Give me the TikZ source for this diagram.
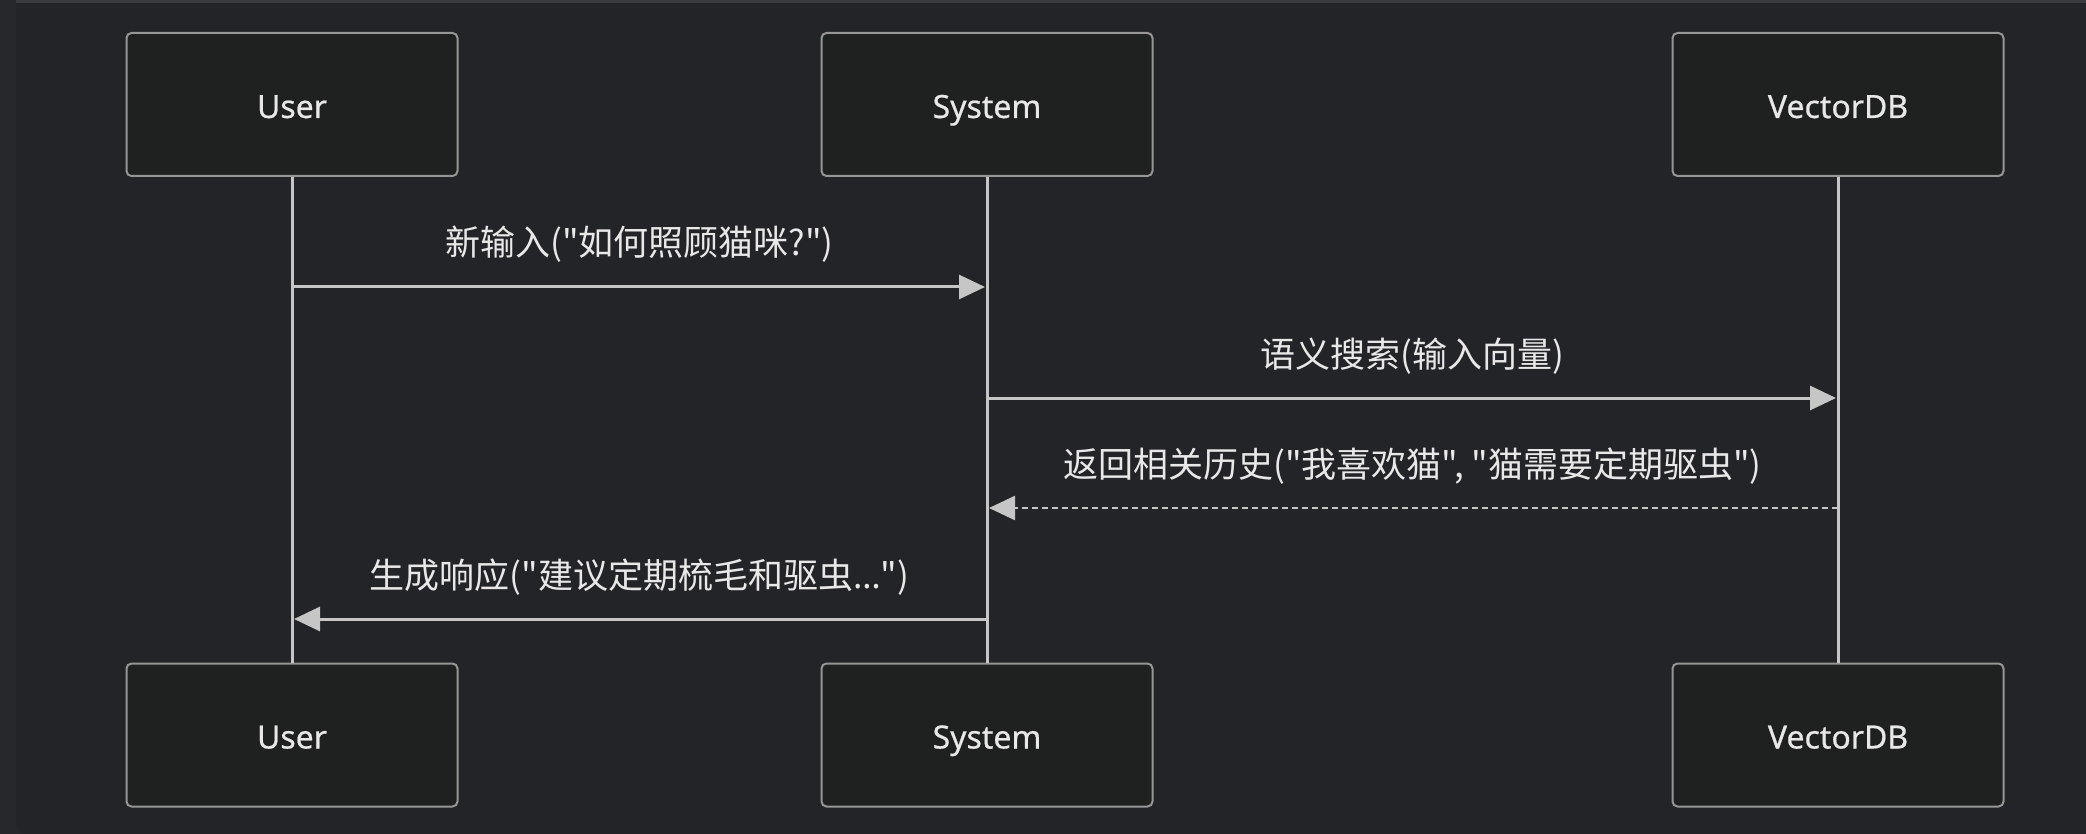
\documentclass[tikz,border=0pt]{standalone}
\usepackage{fontspec}
\setmainfont{Noto Sans}
\newfontfamily\cjk{Noto Sans CJK SC}
\newfontfamily\actorfont[FakeBold=0.6]{Noto Sans}
\usepackage{xcolor}
\usetikzlibrary{arrows.meta}

\definecolor{stripbg}{HTML}{27282C}
\definecolor{panelbg}{HTML}{232428}
\definecolor{topline}{HTML}{3A3B3F}
\definecolor{boxfill}{HTML}{1F2020}
\definecolor{boxline}{HTML}{969696}
\definecolor{wire}{HTML}{C6C6C6}
\definecolor{txt}{HTML}{E8E8E8}

\begin{document}
\begin{tikzpicture}[x=1pt,y=-1pt,
  actor/.style={draw=boxline, fill=boxfill, line width=2pt, rounded corners=5pt,
    minimum width=331pt, minimum height=143pt, text=txt,
    text height=27pt, text depth=0pt,
    font=\actorfont\fontsize{32}{38}\selectfont},
  life/.style={draw=wire, line width=3pt},
  msg/.style={draw=wire, line width=3pt, -{Triangle[length=26pt,width=24pt]}, shorten >=2pt},
  reply/.style={msg, line width=2.5pt, dash pattern=on 6pt off 4pt},
  msglabel/.style={text=txt, font=\cjk\fontsize{35}{40}\selectfont, anchor=base, yshift=31pt}]

\useasboundingbox (0,0) rectangle (2086,834);

% Background: left strip, panel and its top edge
\fill[stripbg] (0,0) rectangle (2086,834);
\fill[panelbg, rounded corners=10pt] (16,-20) rectangle (2110,834);
\fill[topline] (16,0) rectangle (2086,3);

% Participants on top
\node[actor] (userTop) at (292,104.5) {User};
\node[actor] (sysTop) at (987,104.5) {System};
\node[actor] (dbTop) at (1838,104.5) {VectorDB};

% Participants at the bottom
\node[actor] (userBot) at (292,735) {User};
\node[actor] (sysBot) at (987,735) {System};
\node[actor] (dbBot) at (1838,735) {VectorDB};

% Lifelines
\draw[life] (userTop) -- (userBot);
\draw[life] (sysTop) -- (sysBot);
\draw[life] (dbTop) -- (dbBot);

% Points where the messages meet the lifelines
\coordinate (inUser) at (292,287);
\coordinate (inSys) at (987,287);
\coordinate (askSys) at (987,398);
\coordinate (askDb) at (1838,398);
\coordinate (backDb) at (1838,508);
\coordinate (backSys) at (987,508);
\coordinate (outSys) at (987,619);
\coordinate (outUser) at (292,619);

% User asks the system
\draw[msg] (inUser) -- (inSys) node[midway,msglabel] {新输入("如何照顾猫咪?")};

% System searches the vector store
\draw[msg] (askSys) -- (askDb) node[midway,msglabel] {语义搜索(输入向量)};

% Vector store returns the history (dashed)
\draw[reply] (backDb) -- (backSys) node[midway,msglabel] {返回相关历史("我喜欢猫", "猫需要定期驱虫")};

% System answers the user
\draw[msg] (outSys) -- (outUser) node[midway,msglabel] {生成响应("建议定期梳毛和驱虫{\rmfamily …}")};

\end{tikzpicture}
\end{document}
